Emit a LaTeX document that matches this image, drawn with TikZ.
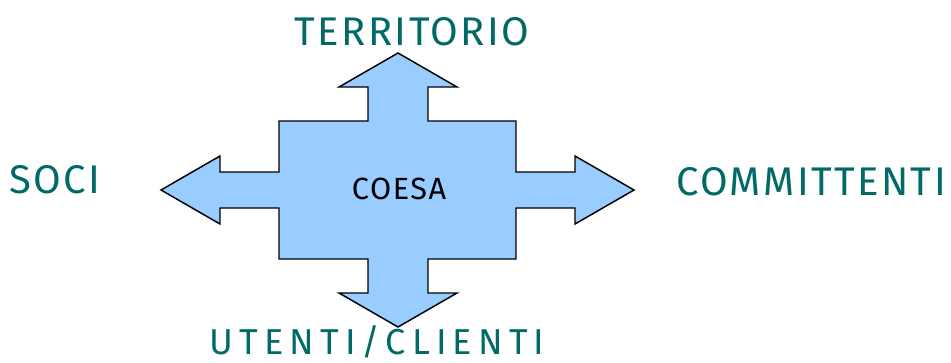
\documentclass[tikz,border=0pt]{standalone}
\usepackage{fontspec}
\setmainfont{Fira Sans}
\usepackage{xcolor}
\usepackage{tikz}

\definecolor{labelteal}{RGB}{0,106,102}
\definecolor{arrowblue}{RGB}{153,204,255}

\tikzset{
  label text/.style={text=labelteal, inner sep=0pt, anchor=base,
    font=\fontsize{30}{34}\selectfont\addfontfeature{LetterSpace=6}},
  arrow shape/.style={draw=black, line width=1.1pt, fill=arrowblue, line join=miter}
}

\begin{document}
\begin{tikzpicture}[x=0.75pt, y=-0.75pt]
    \useasboundingbox (0,0) rectangle (951,362);

    % four-way arrow
    \draw [arrow shape] (398,53) -- (457,87) -- (428,87) -- (428,121)
        -- (516,121) -- (516,172) -- (575,172) -- (575,156) -- (634,190)
        -- (575,224) -- (575,208) -- (516,208) -- (516,259)
        -- (428,259) -- (428,293) -- (457,293) -- (398,327)
        -- (339,293) -- (368,293) -- (368,259) -- (279,259)
        -- (279,208) -- (220,208) -- (220,224) -- (161,190)
        -- (220,156) -- (220,172) -- (279,172) -- (279,121)
        -- (368,121) -- (368,87) -- (339,87) -- cycle;

    % centre
    \node (coesa) [inner sep=0pt, anchor=base,
        font=\fontsize{23}{28}\selectfont\addfontfeature{LetterSpace=5}] at (399,199) {COESA};

    % labels
    \node (territorio) [label text] at (412,45) {TERRITORIO};
    \node (soci) [label text] at (55,193) {SOCI};
    \node (committenti) [label text] at (811,195) {COMMITTENTI};
    \node (utenti) [label text, font=\fontsize{27}{31}\selectfont\addfontfeature{LetterSpace=17}]
        at (377,354) {UTENTI/CLIENTI};
\end{tikzpicture}
\end{document}
